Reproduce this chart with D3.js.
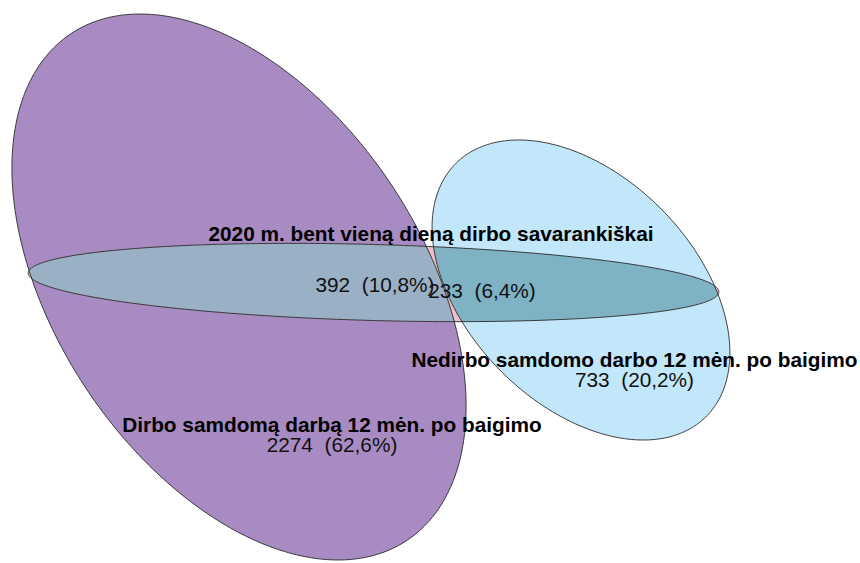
<!DOCTYPE html>
<html>
<head>
<meta charset="utf-8">
<script src="https://cdn.jsdelivr.net/npm/d3@7"></script>
<style>
  html, body { margin: 0; padding: 0; background: #fff; }
  text { font-family: "Liberation Sans", Arial, sans-serif; white-space: pre; }
</style>
</head>
<body>
<svg id="chart" width="860" height="563"></svg>
<script>
// ---- data ----
const setNames = [
  "Dirbo samdomą darbą 12 mėn. po baigimo",
  "Nedirbo samdomo darbo 12 mėn. po baigimo",
  "2020 m. bent vieną dieną dirbo savarankiškai"
];
// fitted ellipse geometry (Euler diagram fit, data units)
const ellipseH   = [-1.91, 1.51, -0.565];
const ellipseK   = [-0.055, -0.085, -0.01];
const ellipseA   = [3.04, 1.78, 3.455];
const ellipseB   = [1.835, 1.14, 0.38];
const ellipsePhi = [-56.5, -45.5, -1.575]; // degrees

// region counts
const regionNames  = ["Dirbo", "Dirbo&Savarankiškai", "Nedirbo&Savarankiškai", "Nedirbo"];
const regionValues = [2274, 392, 233, 733];
// label anchors (data units) for quantities
const regionLabelX = [-0.98, -0.55, 0.52, 2.045];
const regionLabelY = [-1.705, -0.105, -0.165, -1.055];
// set-name label anchors
const setLabelX = [-0.98, 2.045, 0.01];
const setLabelY = [-1.505, -0.855, 0.405];

// ---- scales ----
const W = 860, H = 563;
const x = d3.scaleLinear().domain([-4.3, 4.3]).range([0, W]);
const y = d3.scaleLinear().domain([-2.815, 2.815]).range([H, 0]);

const svg = d3.select("#chart");
const defs = svg.append("defs");

function ellipsePoints(i) {
  const h = ellipseH[i], k = ellipseK[i], a = ellipseA[i], b = ellipseB[i];
  const p = ellipsePhi[i] * Math.PI / 180;
  const pts = [];
  const n = 360;
  for (let j = 0; j < n; j++) {
    const t = 2 * Math.PI * j / n;
    const ex = h + a * Math.cos(t) * Math.cos(p) - b * Math.sin(t) * Math.sin(p);
    const ey = k + a * Math.cos(t) * Math.sin(p) + b * Math.sin(t) * Math.cos(p);
    pts.push([x(ex), y(ey)]);
  }
  return pts;
}
const line = d3.line().curve(d3.curveLinearClosed);
const paths = setNames.map((_, i) => line(ellipsePoints(i)));

// clip paths
paths.forEach((d, i) => {
  defs.append("clipPath").attr("id", "clip" + i).append("path").attr("d", d);
});
// nested clip purple ∩ blue
defs.append("clipPath").attr("id", "clip01")
  .append("path").attr("d", paths[1]).attr("clip-path", "url(#clip0)");

const fills = {
  purple: "#a88bc2",
  blue: "#c2e6fa",
  thin: "#f0bec8",
  purpleThin: "#9ab0c4",
  blueThin: "#7eb2c4",
  purpleBlue: "#b8a8d8",
  all: "#e8d24a"
};

const g = svg.append("g");
g.append("path").attr("d", paths[0]).attr("fill", fills.purple);
g.append("path").attr("d", paths[1]).attr("fill", fills.blue);
g.append("path").attr("d", paths[1]).attr("fill", fills.purpleBlue).attr("clip-path", "url(#clip0)");
g.append("path").attr("d", paths[2]).attr("fill", fills.thin);
g.append("path").attr("d", paths[2]).attr("fill", fills.purpleThin).attr("clip-path", "url(#clip0)");
g.append("path").attr("d", paths[2]).attr("fill", fills.blueThin).attr("clip-path", "url(#clip1)");
g.append("path").attr("d", paths[2]).attr("fill", fills.all).attr("clip-path", "url(#clip01)");

// outlines
g.selectAll("path.outline").data(paths).join("path")
  .attr("class", "outline")
  .attr("d", d => d)
  .attr("fill", "none")
  .attr("stroke", "#2a2a2a")
  .attr("stroke-width", 0.9);

// labels
const total = d3.sum(regionValues);
const fmtPct = v => (Math.round(v / total * 1000) / 10).toFixed(1).replace(".", ",") + "%";

const labels = svg.append("g");
setNames.forEach((name, i) => {
  labels.append("text")
    .attr("x", x(setLabelX[i]))
    .attr("y", y(setLabelY[i]))
    .attr("text-anchor", "middle")
    .attr("font-size", 20.8)
    .attr("font-weight", "bold")
    .attr("fill", "#000")
    .text(name);
});
regionValues.forEach((v, i) => {
  labels.append("text")
    .attr("x", x(regionLabelX[i]))
    .attr("y", y(regionLabelY[i]))
    .attr("text-anchor", "middle")
    .attr("font-size", 20.8)
    .attr("fill", "#111")
    .text(v + "  (" + fmtPct(v) + ")");
});
</script>
</body>
</html>
